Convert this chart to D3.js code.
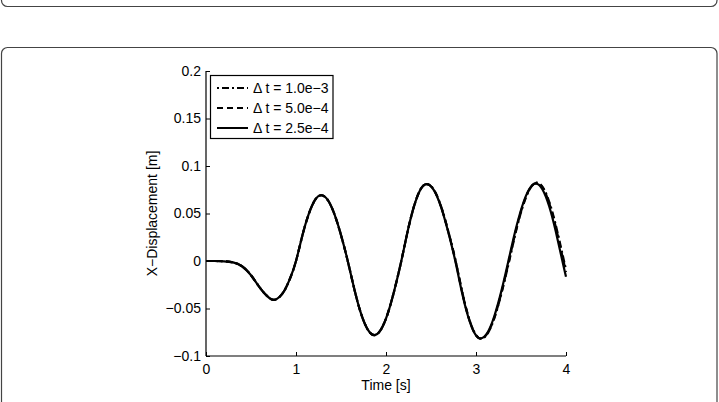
<!DOCTYPE html>
<html>
<head>
<meta charset="utf-8">
<script src="https://cdn.jsdelivr.net/npm/d3@7"></script>
<style>
  html, body { margin: 0; padding: 0; background: #fff; }
  svg { display: block; }
  text { font-family: "Liberation Sans", Arial, Helvetica, sans-serif; fill: #000; }
</style>
</head>
<body>
<svg id="chart" width="719" height="402"></svg>
<script>
// ---- data ----
const xTicks = [0, 1, 2, 3, 4];
const yTicks = [-0.1, -0.05, 0, 0.05, 0.1, 0.15, 0.2];
const yTickLabels = ["\u22120.1", "\u22120.05", "0", "0.05", "0.1", "0.15", "0.2"];
const xTitle = "Time [s]";
const yTitle = "X\u2212Displacement [m]";
const seriesNames = ["\u0394 t = 1.0e\u22123", "\u0394 t = 5.0e\u22124", "\u0394 t = 2.5e\u22124"];

// dt = 2.5e-4 (solid)
const timeFine = [0, 0.10, 0.20, 0.30, 0.40, 0.50, 0.60, 0.68, 0.75, 0.8125, 0.875, 0.9375, 1.00,
  1.07, 1.14, 1.21, 1.28, 1.354, 1.428, 1.501, 1.575, 1.649, 1.722, 1.796, 1.87,
  1.945, 2.02, 2.095, 2.17, 2.24, 2.31, 2.38, 2.45, 2.53, 2.61, 2.69, 2.77,
  2.84, 2.91, 2.98, 3.05, 3.128, 3.205, 3.283, 3.36, 3.436, 3.513, 3.589, 3.665,
  3.739, 3.813, 3.886, 3.96, 4.00];
const dispFine = [0, 0, -0.0003, -0.0015, -0.0055, -0.0150, -0.0283, -0.0370, -0.0410, -0.0382, -0.0305, -0.0175, 0,
  0.0265, 0.0490, 0.0640, 0.0692, 0.0640, 0.0490, 0.0270, 0, -0.0300, -0.0552, -0.0720, -0.0780,
  -0.0720, -0.0552, -0.0300, 0, 0.0310, 0.0572, 0.0748, 0.0810, 0.0748, 0.0572, 0.0310, 0,
  -0.0312, -0.0576, -0.0753, -0.0815, -0.0753, -0.0576, -0.0312, 0, 0.0312, 0.0576, 0.0753, 0.0815,
  0.0753, 0.0576, 0.0312, 0, -0.0165];

// dt = 5.0e-4 (dashed) — slight lag near the end
const timeMid = [0, 0.10, 0.20, 0.30, 0.40, 0.50, 0.60, 0.68, 0.75, 0.8125, 0.875, 0.9375, 1.00,
  1.07, 1.14, 1.21, 1.28, 1.354, 1.428, 1.501, 1.575, 1.649, 1.722, 1.796, 1.87,
  1.945, 2.02, 2.095, 2.17, 2.24, 2.31, 2.38, 2.452, 2.532, 2.612, 2.692, 2.773,
  2.843, 2.913, 2.983, 3.054, 3.132, 3.21, 3.288, 3.366, 3.442, 3.52, 3.597, 3.673,
  3.748, 3.823, 3.897, 3.972, 4.00];
const dispMid = [0, 0, -0.0003, -0.0015, -0.0055, -0.0150, -0.0283, -0.0370, -0.0410, -0.0382, -0.0305, -0.0175, 0,
  0.0265, 0.0490, 0.0640, 0.0692, 0.0640, 0.0490, 0.0270, 0, -0.0300, -0.0552, -0.0720, -0.0780,
  -0.0720, -0.0552, -0.0300, 0, 0.0310, 0.0572, 0.0748, 0.0810, 0.0748, 0.0572, 0.0310, 0,
  -0.0313, -0.0578, -0.0755, -0.0818, -0.0755, -0.0578, -0.0313, 0, 0.0315, 0.0582, 0.0760, 0.0822,
  0.0760, 0.0582, 0.0315, 0, -0.0115];

// dt = 1.0e-3 (dash-dot) — a little more lag near the end
const timeCoarse = [0, 0.10, 0.20, 0.30, 0.40, 0.50, 0.60, 0.68, 0.75, 0.8125, 0.875, 0.9375, 1.00,
  1.07, 1.14, 1.21, 1.28, 1.354, 1.428, 1.501, 1.575, 1.649, 1.722, 1.796, 1.87,
  1.945, 2.02, 2.095, 2.17, 2.24, 2.31, 2.38, 2.453, 2.533, 2.613, 2.693, 2.774,
  2.844, 2.914, 2.985, 3.056, 3.134, 3.212, 3.29, 3.369, 3.445, 3.523, 3.6, 3.677,
  3.752, 3.827, 3.902, 3.978, 4.00];
const dispCoarse = [0, 0, -0.0003, -0.0015, -0.0055, -0.0150, -0.0283, -0.0370, -0.0410, -0.0382, -0.0305, -0.0175, 0,
  0.0265, 0.0490, 0.0640, 0.0692, 0.0640, 0.0490, 0.0270, 0, -0.0300, -0.0552, -0.0720, -0.0780,
  -0.0720, -0.0552, -0.0300, 0, 0.0310, 0.0572, 0.0748, 0.0810, 0.0748, 0.0572, 0.0310, 0,
  -0.0313, -0.0578, -0.0756, -0.0819, -0.0756, -0.0578, -0.0313, 0, 0.0316, 0.0584, 0.0762, 0.0824,
  0.0762, 0.0584, 0.0316, 0, -0.0090];

// ---- drawing ----
const svg = d3.select("#chart");

// outer panel frames
svg.append("rect").attr("x", 1.5).attr("y", -30).attr("width", 715.5).attr("height", 36.5)
  .attr("rx", 6).attr("fill", "none").attr("stroke", "#444").attr("stroke-width", 1.2);
svg.append("rect").attr("x", 1.5).attr("y", 47.5).attr("width", 715.5).attr("height", 400)
  .attr("rx", 6).attr("fill", "none").attr("stroke", "#444").attr("stroke-width", 1.2);

const plot = { left: 206, right: 566, top: 71, bottom: 356 };
const x = d3.scaleLinear().domain([0, 4]).range([plot.left, plot.right]);
const y = d3.scaleLinear().domain([-0.1, 0.2]).range([plot.bottom, plot.top]);

const series = [
  { name: seriesNames[0], t: timeCoarse, v: dispCoarse, dash: "2,3,7,3" },
  { name: seriesNames[1], t: timeMid, v: dispMid, dash: "6,4" },
  { name: seriesNames[2], t: timeFine, v: dispFine, dash: null }
];

const line = d3.line().x(d => x(d[0])).y(d => y(d[1])).curve(d3.curveNatural);

series.forEach(s => {
  const pts = s.t.map((t, i) => [t, s.v[i]]);
  svg.append("path").datum(pts).attr("d", line)
    .attr("fill", "none").attr("stroke", "#000").attr("stroke-width", 2.2)
    .attr("stroke-linejoin", "round")
    .attr("stroke-dasharray", s.dash);
});

// axes
const xAxis = d3.axisBottom(x).tickValues(xTicks).tickSize(-4).tickPadding(8).tickFormat(d3.format("d"));
const yAxis = d3.axisLeft(y).tickValues(yTicks).tickSize(-4).tickPadding(5)
  .tickFormat((d, i) => yTickLabels[i]);

const gx = svg.append("g").attr("transform", `translate(0,${plot.bottom})`).call(xAxis);
const gy = svg.append("g").attr("transform", `translate(${plot.left},0)`).call(yAxis);
[gx, gy].forEach(g => {
  g.select(".domain").attr("stroke", "#000").attr("stroke-width", 1.2);
  g.selectAll(".tick line").attr("stroke", "#000").attr("stroke-width", 1);
  g.selectAll(".tick text").attr("font-size", 14).attr("font-family", "Liberation Sans, Arial, sans-serif").attr("fill", "#000");
});
gx.select(".domain").attr("d", `M${plot.left},0H${plot.right}`);
gy.select(".domain").attr("d", `M0,${plot.bottom}V${plot.top}`);

// titles
svg.append("text").attr("x", (plot.left + plot.right) / 2).attr("y", 390)
  .attr("text-anchor", "middle").attr("font-size", 14).text(xTitle);
svg.append("text").attr("transform", `translate(157,${(plot.top + plot.bottom) / 2}) rotate(-90)`)
  .attr("text-anchor", "middle").attr("font-size", 14).text(yTitle);

// legend
const lg = svg.append("g");
lg.append("rect").attr("x", 210.5).attr("y", 75.5).attr("width", 122.5).attr("height", 63)
  .attr("fill", "#fff").attr("stroke", "#000").attr("stroke-width", 1.2);
series.forEach((s, i) => {
  const yy = 88 + i * 20;
  lg.append("line").attr("x1", 217).attr("x2", 248).attr("y1", yy).attr("y2", yy)
    .attr("stroke", "#000").attr("stroke-width", 2).attr("stroke-dasharray", s.dash);
  lg.append("text").attr("x", 253).attr("y", yy + 5).attr("font-size", 14).text(s.name);
});
</script>
</body>
</html>
